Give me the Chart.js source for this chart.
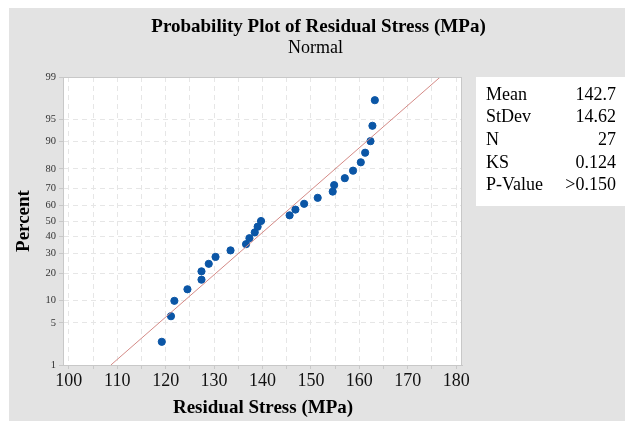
<!DOCTYPE html>
<html>
<head>
<meta charset="utf-8">
<script src="https://cdn.jsdelivr.net/npm/chart.js@4"></script>
<style>
  body { margin: 0; background: #fff; }
  #wrap { width: 625px; height: 421px; }
</style>
</head>
<body>
<div id="wrap"><canvas id="myChart" width="625" height="421"></canvas></div>
<script>
// data
const stress = [119.2, 121.1, 121.8, 124.5, 127.4, 127.4, 128.9, 130.3, 133.4, 136.6, 137.3, 138.4, 139.0, 139.7,
                145.6, 146.8, 148.6, 151.4, 154.5, 154.8, 157.0, 158.7, 160.3, 161.2, 162.3, 162.7, 163.2];
const percent = [2.55, 6.20, 9.85, 13.50, 17.15, 20.80, 24.45, 28.10, 31.75, 35.40, 39.05, 42.70, 46.35, 50.00,
                 53.65, 57.30, 60.95, 64.60, 68.25, 71.90, 75.55, 79.20, 82.85, 86.50, 90.15, 93.80, 97.45];
const yTickPercents = [1, 5, 10, 20, 30, 40, 50, 60, 70, 80, 90, 95, 99];
const xTicks = [100, 110, 120, 130, 140, 150, 160, 170, 180];
const statLabels = ['Mean', 'StDev', 'N', 'KS', 'P-Value'];
const statValues = ['142.7', '14.62', '27', '0.124', '>0.150'];
const mean = 142.7;
const stdev = 14.62;

const serif = "'Liberation Serif', 'Times New Roman', serif";

// inverse normal cdf (Acklam), percent scale -> z
function probit(p) {
    var a = [-3.969683028665376e+01, 2.209460984245205e+02, -2.759285104469687e+02, 1.383577518672690e+02, -3.066479806614716e+01, 2.506628277459239e+00];
    var b = [-5.447609879822406e+01, 1.615858368580409e+02, -1.556989798598866e+02, 6.680131188771972e+01, -1.328068155288572e+01];
    var c = [-7.784894002430293e-03, -3.223964580411365e-01, -2.400758277161838e+00, -2.549732539343734e+00, 4.374664141464968e+00, 2.938163982698783e+00];
    var d = [7.784695709041462e-03, 3.224671290700398e-01, 2.445134137142996e+00, 3.754408661907416e+00];
    var pl = 0.02425, q, r;
    if (p < pl) {
        q = Math.sqrt(-2 * Math.log(p));
        return (((((c[0]*q+c[1])*q+c[2])*q+c[3])*q+c[4])*q+c[5]) / ((((d[0]*q+d[1])*q+d[2])*q+d[3])*q+1);
    } else if (p <= 1 - pl) {
        q = p - 0.5; r = q * q;
        return (((((a[0]*r+a[1])*r+a[2])*r+a[3])*r+a[4])*r+a[5])*q / (((((b[0]*r+b[1])*r+b[2])*r+b[3])*r+b[4])*r+1);
    }
    q = Math.sqrt(-2 * Math.log(1 - p));
    return -(((((c[0]*q+c[1])*q+c[2])*q+c[3])*q+c[4])*q+c[5]) / ((((d[0]*q+d[1])*q+d[2])*q+d[3])*q+1);
}

const zMin = probit(0.01);
const zMax = probit(0.99);
const points = stress.map((x, i) => ({ x: x, y: probit(percent[i] / 100) }));
const fitLine = [
    { x: mean + zMin * stdev, y: zMin },
    { x: mean + zMax * stdev, y: zMax }
];

// backgrounds, frame, titles and stats box
const decor = {
    id: 'decor',
    beforeDraw(chart) {
        const ctx = chart.ctx, a = chart.chartArea;
        ctx.save();
        ctx.fillStyle = '#ffffff';
        ctx.fillRect(0, 0, 625, 421);
        ctx.fillStyle = '#e3e3e3';
        ctx.fillRect(9, 8, 616, 413);
        ctx.fillStyle = '#ffffff';
        ctx.fillRect(a.left, a.top, a.right - a.left, a.bottom - a.top);
        ctx.fillRect(476, 77, 149, 129);
        ctx.restore();
    },
    afterDraw(chart) {
        const ctx = chart.ctx, a = chart.chartArea;
        ctx.save();
        ctx.strokeStyle = '#c8c8c8';
        ctx.lineWidth = 1;
        ctx.strokeRect(a.left + 0.5, a.top + 0.5, a.right - a.left - 1, a.bottom - a.top);

        ctx.fillStyle = '#000';
        ctx.textAlign = 'center';
        ctx.textBaseline = 'middle';
        ctx.font = 'bold 19px ' + serif;
        ctx.fillText('Probability Plot of Residual Stress (MPa)', 318.5, 27);
        ctx.font = '18px ' + serif;
        ctx.fillText('Normal', 315.5, 48);

        ctx.font = 'bold 19px ' + serif;
        ctx.fillText('Residual Stress (MPa)', 263, 408);
        ctx.save();
        ctx.translate(24, (a.top + a.bottom) / 2);
        ctx.rotate(-Math.PI / 2);
        ctx.fillText('Percent', 0, 0);
        ctx.restore();

        ctx.font = '18px ' + serif;
        for (var i = 0; i < statLabels.length; i++) {
            var y = 95 + i * 22.6;
            ctx.textAlign = 'left';
            ctx.fillText(statLabels[i], 486, y);
            ctx.textAlign = 'right';
            ctx.fillText(statValues[i], 616, y);
        }
        ctx.restore();
    }
};

var ctx = document.getElementById('myChart').getContext('2d');
var chart = new Chart(ctx, {
    type: 'scatter',
    data: {
        datasets: [{
            type: 'line',
            data: fitLine,
            borderColor: '#d48a86',
            borderWidth: 1,
            pointRadius: 0,
            fill: false
        }, {
            data: points,
            backgroundColor: '#0b56a6',
            borderColor: '#0b56a6',
            pointRadius: 3.6,
            pointHoverRadius: 3.6
        }]
    },
    options: {
        responsive: false,
        animation: false,
        events: [],
        layout: { padding: { left: 0, top: 77, right: 163, bottom: 0 } },
        plugins: {
            legend: { display: false },
            tooltip: { enabled: false }
        },
        scales: {
            x: {
                type: 'linear',
                min: 98.8,
                max: 181.2,
                afterFit(scale) { scale.height = 56; },
                afterBuildTicks(scale) {
                    var t = [];
                    for (var v = 100; v <= 180; v += 5) t.push({ value: v });
                    scale.ticks = t;
                },
                ticks: {
                    autoSkip: false,
                    maxRotation: 0,
                    padding: 1,
                    color: '#111',
                    font: { family: serif, size: 18 },
                    callback: (v) => xTicks.includes(v) ? String(v) : ''
                },
                grid: { color: '#e6e6e6', tickLength: 4, tickColor: '#c8c8c8', tickBorderDash: [] },
                border: { color: '#c8c8c8', dash: [5, 4] }
            },
            y: {
                type: 'linear',
                min: zMin,
                max: zMax,
                afterFit(scale) { scale.width = 63; },
                afterBuildTicks(scale) {
                    scale.ticks = yTickPercents.map(p => ({ value: probit(p / 100), label: p }));
                },
                ticks: {
                    autoSkip: false,
                    padding: 3,
                    color: '#333',
                    font: { family: serif, size: 10.5 },
                    callback: function (v, i) { return String(yTickPercents[i]); }
                },
                grid: { color: '#e6e6e6', tickLength: 4, tickColor: '#c8c8c8', tickBorderDash: [] },
                border: { color: '#c8c8c8', dash: [5, 4] }
            }
        }
    },
    plugins: [decor]
});
</script>
</body>
</html>
